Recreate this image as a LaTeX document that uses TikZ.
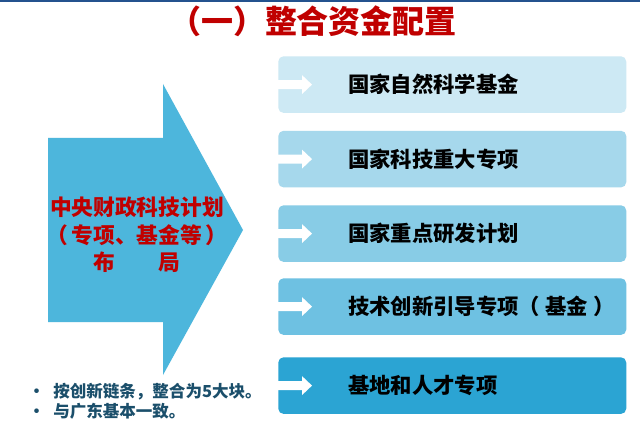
\documentclass[tikz,border=0pt]{standalone}
\usepackage{fontspec}
\newfontfamily\cjk{Noto Sans CJK SC}
\usetikzlibrary{calc}
\definecolor{titlered}{HTML}{C00000}
\definecolor{topblue}{HTML}{24528E}
\definecolor{arrowblue}{HTML}{4DB6DC}
\definecolor{cA}{HTML}{CDE9F4}
\definecolor{cB}{HTML}{A6D8EC}
\definecolor{cC}{HTML}{88CCE6}
\definecolor{cD}{HTML}{6EC1E2}
\definecolor{cE}{HTML}{2BA4D3}
\definecolor{notecol}{HTML}{1B4F6B}
\begin{document}
\begin{tikzpicture}[x=0.75pt,y=-0.75pt,
  box/.style={rectangle,rounded corners=4pt,inner sep=0pt,anchor=north west,
    minimum width=261pt,minimum height=42.5pt},
  boxtext/.style={anchor=west,inner sep=0pt,font=\cjk\bfseries\fontsize{16pt}{18pt}\selectfont,text=black},
  whitearrow/.style={fill=white},
  notetext/.style={anchor=west,inner sep=0pt,font=\cjk\bfseries\fontsize{12.4pt}{14pt}\selectfont,text=notecol}]
\useasboundingbox (0,0) rectangle (640,435);
\fill[white] (0,0) rectangle (640,435);
\fill[topblue] (0,0) rectangle (640,2);
% title
\node[inner sep=0pt,font=\cjk\bfseries\fontsize{24pt}{26pt}\selectfont,text=titlered] (title) at (313,21) {（一）整合资金配置};
% big arrow
\fill[arrowblue] (48,138) -- (163,138) -- (163,84) -- (243,230) -- (163,375) -- (163,322) -- (48,322) -- cycle;
\node[inner sep=0pt,align=center,font=\cjk\bfseries\fontsize{16.3pt}{20.5pt}\selectfont,text=titlered] (central) at (137,235)
  {中央财政科技计划\\（\hspace{0.15em}专项、基金等\hspace{0.15em}）\\布\hspace{2em}局};
% boxes
\node[box,fill=cA] (b1) at (278,56) {};
\node[box,fill=cB] (b2) at (278,130.5) {};
\node[box,fill=cC] (b3) at (278,205) {};
\node[box,fill=cD] (b4) at (278,278) {};
\node[box,fill=cE] (b5) at (278,357) {};
\foreach \b/\t in {b1/国家自然科学基金,b2/国家科技重大专项,b3/国家重点研发计划,b4/技术创新引导专项（\hspace{0.25em}基金\hspace{0.25em}）,b5/基地和人才专项}{
  \node[boxtext] (t\b) at ([xshift=52.5pt]\b.west) {\t};
  \fill[whitearrow,shift={(\b.west)}] (0,-4.5) -- (24,-4.5) -- (24,-9.5) -- (34,0) -- (24,9.5) -- (24,4.5) -- (0,4.5) -- cycle;
}
% notes
\node[notetext] (n1) at (28,392) {\makebox[18.75pt][l]{•}按创新链条，整合为5大块。};
\node[notetext] (n2) at (28,411) {\makebox[18.75pt][l]{•}与广东基本一致。};
\end{tikzpicture}
\end{document}
